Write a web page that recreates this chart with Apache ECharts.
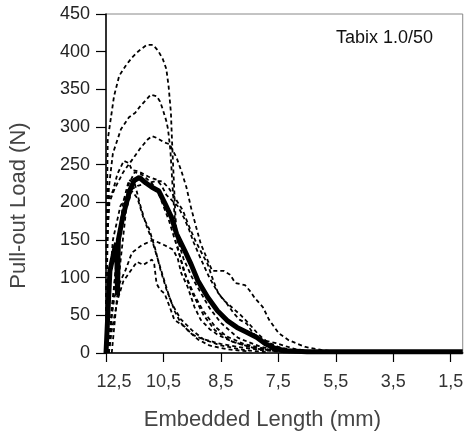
<!DOCTYPE html>
<html>
<head>
<meta charset="utf-8">
<script src="https://cdn.jsdelivr.net/npm/echarts@6/dist/echarts.min.js"></script>
<style>
  html, body { margin: 0; padding: 0; background: #fff; }
  #chart { width: 466px; height: 439px; }
</style>
</head>
<body>
<div id="chart"></div>
<script>
// x positions are in tick steps (0 = first tick "12,5", 6 = last tick "1,5")
const tickLabels = ['12,5', '10,5', '8,5', '7,5', '5,5', '3,5', '1,5']

// individual specimens (dashed), [tick step, load N]
const specA = [[0,0],[0.01,150],[0.03,283],[0.14,341],[0.23,368],[0.34,381],[0.45,392],[0.57,401],[0.71,409],[0.82,409],[0.91,401],[0.99,390],[1.05,377],[1.09,354],[1.13,319],[1.15,280],[1.18,230],[1.21,180],[1.25,140],[1.35,110],[1.5,80],[1.7,50],[1.9,30],[2.2,15],[2.6,6],[3.0,2],[3.5,0.5]]
const specB = [[0,0],[0.02,120],[0.05,220],[0.12,265],[0.26,297],[0.4,313],[0.51,319],[0.6,328],[0.71,337],[0.78,343],[0.88,341],[0.94,334],[0.99,323],[1.05,308],[1.08,297],[1.12,270],[1.16,220],[1.2,175],[1.25,150],[1.35,125],[1.5,100],[1.65,80],[1.8,60],[2.0,40],[2.3,20],[2.7,8],[3.1,2]]
const specC = [[0,0],[0.02,150],[0.06,200],[0.15,218],[0.3,240],[0.46,257],[0.6,272],[0.72,283],[0.8,288],[0.9,285],[1.0,280],[1.11,277],[1.23,259],[1.31,242],[1.4,220],[1.48,193],[1.57,167],[1.65,145],[1.77,123],[1.85,109],[2.05,109],[2.16,104],[2.25,93],[2.42,90],[2.5,83],[2.59,73],[2.73,61],[2.84,44],[3.01,26],[3.18,17],[3.47,8],[3.75,4],[4.1,1]]
const specD = [[0,0],[0.02,190],[0.05,205],[0.12,215],[0.2,238],[0.31,255],[0.4,252],[0.45,243],[0.57,241],[0.74,234],[0.88,230],[0.97,222],[1.05,210],[1.17,201],[1.25,195],[1.36,179],[1.45,163],[1.53,146],[1.65,125],[1.8,100],[1.95,80],[2.1,66],[2.22,53],[2.33,44],[2.45,39],[2.56,26],[2.73,17],[2.96,13],[3.3,5],[3.7,1]]
const specE = [[0.05,0],[0.1,60],[0.2,130],[0.3,185],[0.4,225],[0.5,240],[0.6,238],[0.7,232],[0.8,225],[0.9,215],[1.0,195],[1.1,175],[1.2,150],[1.3,125],[1.4,100],[1.55,75],[1.7,55],[1.9,35],[2.1,22],[2.4,12],[2.8,5],[3.2,1]]
const specF = [[0.02,0],[0.05,80],[0.12,150],[0.25,195],[0.4,215],[0.55,222],[0.7,225],[0.85,228],[0.97,228],[1.03,224],[1.1,218],[1.2,206],[1.34,189],[1.43,171],[1.55,150],[1.65,135],[1.77,118],[1.85,100],[1.95,80],[2.05,70],[2.2,60],[2.35,50],[2.5,38],[2.65,25],[2.8,15],[3.0,8],[3.3,3],[3.7,1]]
const specG = [[0.03,0],[0.08,40],[0.15,75],[0.25,95],[0.34,110],[0.45,133],[0.62,143],[0.82,150],[1.02,143],[1.17,137],[1.25,125],[1.31,106],[1.42,88],[1.54,61],[1.65,44],[1.8,32],[1.95,24],[2.2,15],[2.5,8],[2.9,3],[3.3,1]]
const specI = [[0.05,0],[0.1,30],[0.2,70],[0.3,95],[0.4,106],[0.54,121],[0.65,117],[0.8,124],[0.84,118],[0.88,92],[0.94,84],[1.02,79],[1.11,61],[1.19,44],[1.37,35],[1.48,26],[1.59,21],[1.76,17],[2.0,12],[2.3,8],[2.7,4],[3.1,1]]
const specL = [[0.05,0],[0.1,50],[0.2,140],[0.3,200],[0.4,230],[0.5,225],[0.6,195],[0.7,170],[0.8,150],[0.9,125],[1.0,100],[1.1,75],[1.2,55],[1.3,40],[1.45,28],[1.6,18],[1.8,10],[2.1,5],[2.5,2]]
const specM = [[0.1,0],[0.15,40],[0.25,120],[0.35,190],[0.45,215],[0.55,205],[0.65,180],[0.75,165],[0.85,140],[0.95,110],[1.05,85],[1.15,65],[1.3,45],[1.5,30],[1.7,18],[2.0,10],[2.4,4],[2.8,1]]

// mean curve (thick), with the short dip just after the first rise
const meanCurve = [[0,0],[0.068,109],[0.15,138],[0.185,146],[0.2,77],[0.215,150],[0.29,180],[0.41,215],[0.49,229],[0.58,233],[0.69,226],[0.8,220],[0.92,215],[1.03,198],[1.14,180],[1.23,158],[1.37,136],[1.48,118],[1.6,96],[1.77,74],[1.94,56],[2.11,43],[2.28,34],[2.44,28],[2.62,21],[2.78,12],[2.95,6],[3.12,3],[3.5,1.5],[4.5,1.5],[5.5,1.5],[6.21,1.5]]

const specimens = [specA, specB, specC, specD, specE, specF, specG, specI, specL, specM]

const labelFont = "'Liberation Sans', Arial, sans-serif"

const chart = echarts.init(document.getElementById('chart'))

const series = specimens.map(d => ({
  type: 'line',
  data: d,
  showSymbol: false,
  lineStyle: { color: '#000', width: 1.8, type: [4, 3] },
  z: 2,
}))
series.push({
  type: 'line',
  data: meanCurve,
  showSymbol: false,
  lineStyle: { color: '#000', width: 5 },
  z: 3,
})

chart.setOption({
  animation: false,
  title: {
    text: 'Tabix 1.0/50',
    right: 28,
    top: 24,
    textStyle: { fontFamily: labelFont, fontSize: 18, fontWeight: 'normal', color: '#111' },
  },
  grid: {
    left: 101,
    right: 0,
    top: 14,
    bottom: 86,
    show: true,
    borderColor: '#888',
    borderWidth: 1,
  },
  xAxis: {
    type: 'value',
    min: 0,
    max: 6.21,
    interval: 1,
    splitLine: { show: false },
    axisLine: { lineStyle: { color: '#000', width: 1.5 } },
    axisTick: { length: 9, lineStyle: { color: '#000', width: 1.2 } },
    axisLabel: {
      showMaxLabel: false,
      margin: 20,
      fontFamily: labelFont,
      fontSize: 18,
      color: '#333',
      formatter: v => {
        if (Math.abs(v - Math.round(v)) > 1e-6) return ''
        const i = Math.round(v)
        return i === 0 ? '{first|' + tickLabels[0] + '}' : tickLabels[i]
      },
      rich: {
        first: { fontFamily: labelFont, fontSize: 18, color: '#333', padding: [0, 0, 0, 16] },
      },
    },
    name: 'Embedded Length (mm)',
    nameLocation: 'middle',
    nameGap: 56,
    nameTextStyle: { fontFamily: labelFont, fontSize: 22, color: '#444', padding: [0, 44, 0, 0] },
  },
  yAxis: {
    type: 'value',
    min: 0,
    max: 450,
    interval: 50,
    splitLine: { show: false },
    axisLine: { show: true, lineStyle: { color: '#000', width: 1.5 } },
    axisTick: { show: true, length: 10, lineStyle: { color: '#000', width: 1.2 } },
    axisLabel: { margin: 16, fontFamily: labelFont, fontSize: 18, color: '#222' },
    name: 'Pull-out Load (N)',
    nameLocation: 'middle',
    nameGap: 76,
    nameTextStyle: { fontFamily: labelFont, fontSize: 22, color: '#444', padding: [0, 44, 0, 0] },
  },
  series,
})
</script>
</body>
</html>
